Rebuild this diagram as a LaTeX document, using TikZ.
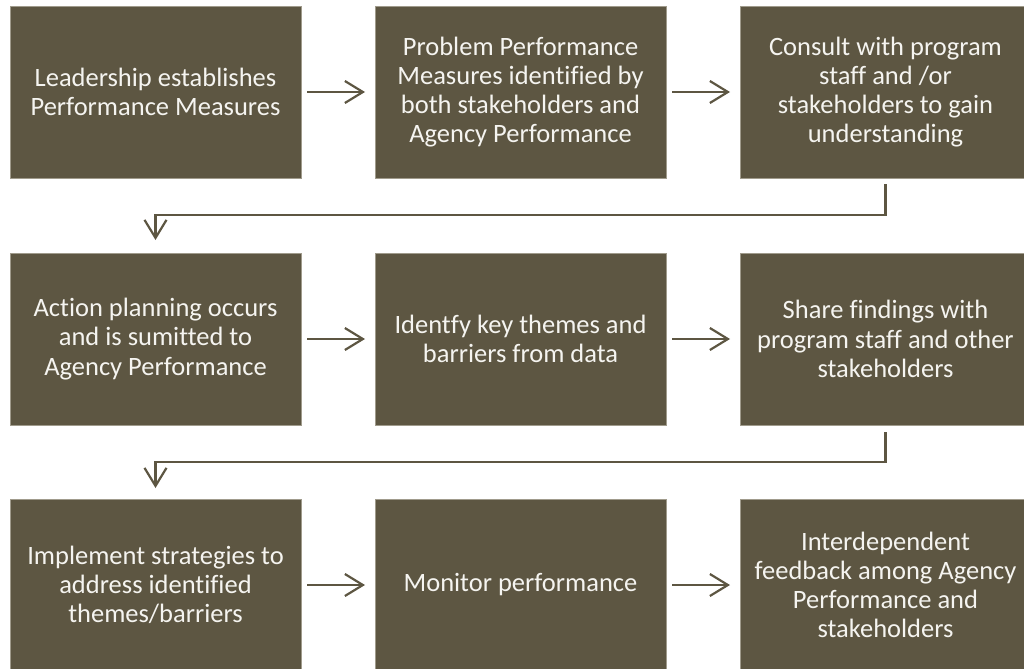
\documentclass[tikz,border=0pt]{standalone}
\usepackage{fontspec}
\setmainfont{Carlito}[Ligatures=NoCommon]
\usepackage{xcolor}
\usetikzlibrary{positioning,arrows.meta}
\definecolor{boxfill}{RGB}{93,86,66}
\definecolor{boxedge}{RGB}{160,155,140}
\definecolor{boxtext}{RGB}{245,244,240}

\begin{document}
\begin{tikzpicture}[
        box/.style={
            rectangle,
            minimum width=291bp,
            minimum height=172bp,
            inner sep=0pt, outer sep=0pt,
            fill=boxfill, draw=boxedge, line width=0.6bp,
            text=boxtext,
            align=center,
            font=\fontsize{26.5bp}{29.2bp}\selectfont
        },
        arrow/.style={-{Straight Barb[length=18bp,width=22bp]}, draw=boxfill, line width=2.2bp},
        node distance=75bp and 74bp
    ]

    \useasboundingbox (0,0) rectangle (1024bp,-669bp);

    \node[box] (lead) at (155.5bp,-92bp) {Leadership establishes\\Performance Measures};

    \node[box, right=of lead] (problem)
        {Problem Performance\\Measures identified by\\both stakeholders and\\Agency Performance};

    \node[box, right=of problem] (consult)
        {Consult with program\\staff and /or\\stakeholders to gain\\understanding};

    \node[box, below=of lead] (action)
        {Action planning occurs\\and is sumitted to\\Agency Performance};

    \node[box, right=of action] (themes)
        {Identfy key themes and\\barriers from data};

    \node[box, right=of themes] (share)
        {Share findings with\\program staff and other\\stakeholders};

    \node[box, below=74bp of action] (implement)
        {Implement strategies to\\address identified\\themes/barriers};

    \node[box, right=of implement] (monitor)
        {Monitor performance};

    \node[box, right=of monitor] (feedback)
        {Interdependent\\feedback among Agency\\Performance and\\stakeholders};

    \draw[arrow, shorten <=6bp, shorten >=10bp] (lead) -- (problem);
    \draw[arrow, shorten <=6bp, shorten >=10bp] (problem) -- (consult);
    \draw[arrow] ([yshift=-6bp]consult.south) -- ++(0,-31bp) -| ([yshift=13bp]action.north);

    \draw[arrow, shorten <=6bp, shorten >=10bp] (action) -- (themes);
    \draw[arrow, shorten <=6bp, shorten >=10bp] (themes) -- (share);
    \draw[arrow] ([yshift=-7bp]share.south) -- ++(0,-30bp) -| ([yshift=11bp]implement.north);

    \draw[arrow, shorten <=6bp, shorten >=10bp] (implement) -- (monitor);
    \draw[arrow, shorten <=6bp, shorten >=10bp] (monitor) -- (feedback);

    \end{tikzpicture}
\end{document}
